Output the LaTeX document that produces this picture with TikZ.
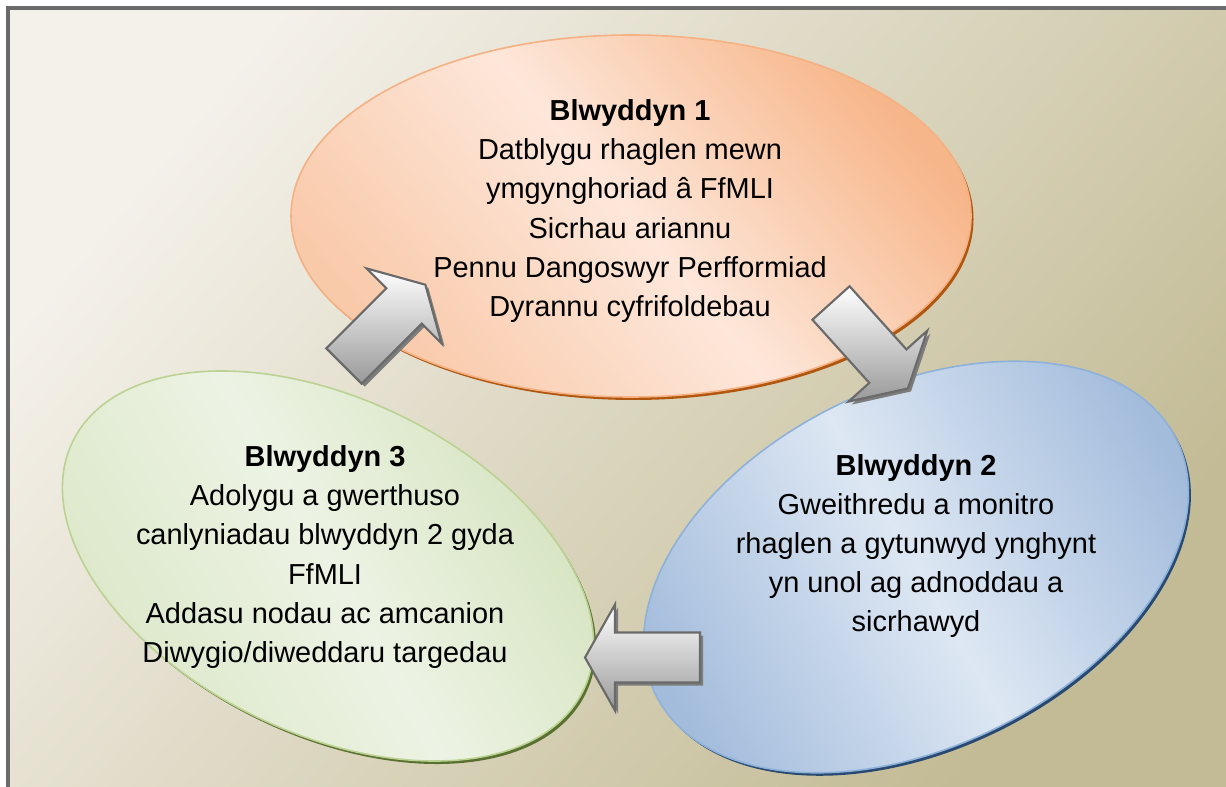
\documentclass[tikz,border=0pt]{standalone}
\usepackage{fontspec}
\setmainfont{Liberation Sans}
\usetikzlibrary{shapes.geometric,calc}
\definecolor{bgA}{HTML}{F4F1EA}
\definecolor{bgB}{HTML}{C3BB95}
\definecolor{framec}{HTML}{6A6A6A}
\definecolor{orEdge}{HTML}{F7B68A}
\definecolor{orMid}{HTML}{FDE7DA}
\definecolor{orLine}{HTML}{F4B183}
\definecolor{orShadow}{HTML}{B0560F}
\definecolor{blEdge}{HTML}{A3BCDC}
\definecolor{blMid}{HTML}{DDE7F3}
\definecolor{blLine}{HTML}{8EB1DA}
\definecolor{blShadow}{HTML}{284A72}
\definecolor{grEdge}{HTML}{D3E2BC}
\definecolor{grMid}{HTML}{EDF3E4}
\definecolor{grLine}{HTML}{BBD293}
\definecolor{grShadow}{HTML}{5A7030}
\definecolor{arEdge}{HTML}{6A6A6A}
\definecolor{arShadow}{HTML}{7C7C7C}
\definecolor{arBottom}{HTML}{999999}
\newcommand\pxu{0.75pt}
\newcommand\blockarrow[3]{%
  \path[#3] ($(#1)+({#2+90}:25)$) -- ($(#1)+({#2}:85)+({#2+90}:25)$)
    -- ($(#1)+({#2}:85)+({#2+90}:53)$) -- ($(#1)+({#2}:115)$)
    -- ($(#1)+({#2}:85)+({#2-90}:53)$) -- ($(#1)+({#2}:85)+({#2-90}:25)$)
    -- ($(#1)+({#2-90}:25)$) -- cycle;}
\tikzset{
  oval/.style={ellipse, inner sep=0pt, line width=1.2pt},
  ovalshadow/.style={ellipse, inner sep=0pt},
  txt/.style={align=center, inner sep=0pt, text=black,
    font=\fontsize{21.7}{29.3}\selectfont},
  arrowbody/.style={draw=arEdge, line width=1.6pt, line join=miter,
    top color=white, bottom color=arBottom},
  arrowshadow/.style={fill=arShadow},
}
\begin{document}
\begin{tikzpicture}[x=0.75pt,y=0.75pt]
\useasboundingbox (0,0) rectangle (1226,-787);
\clip (0,0) rectangle (1226,-787);
\fill[white] (0,0) rectangle (1226,-787);
\path[top color=bgA, bottom color=bgB, shading angle=50] (8,-8) rectangle (1226,-787);
\draw[framec, line width=2.4pt] (8,-8) rectangle (1240,-800);

% shadows
\node[ovalshadow, fill=orShadow, minimum width=680*\pxu, minimum height=362*\pxu] (s1) at (633.5,-219) {};
\node[ovalshadow, fill=grShadow, minimum width=568*\pxu, minimum height=334*\pxu, rotate=-26] (s3) at (330.5,-569) {};
\node[ovalshadow, fill=blShadow, minimum width=580*\pxu, minimum height=360*\pxu, rotate=26] (s2) at (918.5,-570) {};

% ellipses
\node[oval, draw=orLine, top color=orEdge, bottom color=orEdge!60!orMid, middle color=orMid, shading angle=-50,
  minimum width=680*\pxu, minimum height=362*\pxu] (year1) at (631,-216) {};
\node[oval, draw=grLine, top color=grEdge, bottom color=grEdge!85!white, middle color=grMid, shading angle=-60,
  minimum width=568*\pxu, minimum height=334*\pxu, rotate=-26] (year3) at (328,-566) {};
\node[oval, draw=blLine, top color=blEdge, bottom color=blEdge, middle color=blMid, shading angle=-60,
  minimum width=580*\pxu, minimum height=360*\pxu, rotate=26] (year2) at (916,-567) {};

% block arrows
\coordinate (a1) at (344,-366);  \coordinate (a1s) at (347,-369);
\coordinate (a2) at (831,-303);  \coordinate (a2s) at (834,-306);
\coordinate (a3) at (700,-657.5);\coordinate (a3s) at (703,-660.5);
\blockarrow{a1s}{45}{arrowshadow}
\blockarrow{a1}{45}{arrowbody}
\blockarrow{a2s}{-48}{arrowshadow}
\blockarrow{a2}{-48}{arrowbody}
\blockarrow{a3s}{180}{arrowshadow}
\blockarrow{a3}{180}{arrowbody}

% texts
\node[txt] (t1) at (630,-211) {\textbf{Blwyddyn 1}\\Datblygu rhaglen mewn\\ymgynghoriad â FfMLI\\Sicrhau ariannu\\Pennu Dangoswyr Perfformiad\\Dyrannu cyfrifoldebau};
\node[txt] (t2) at (916,-546) {\textbf{Blwyddyn 2}\\Gweithredu a monitro\\rhaglen a gytunwyd ynghynt\\yn unol ag adnoddau a\\sicrhawyd};
\node[txt] (t3) at (325,-557) {\textbf{Blwyddyn 3}\\Adolygu a gwerthuso\\canlyniadau blwyddyn 2 gyda\\FfMLI\\Addasu nodau ac amcanion\\Diwygio/diweddaru targedau};
\end{tikzpicture}
\end{document}
